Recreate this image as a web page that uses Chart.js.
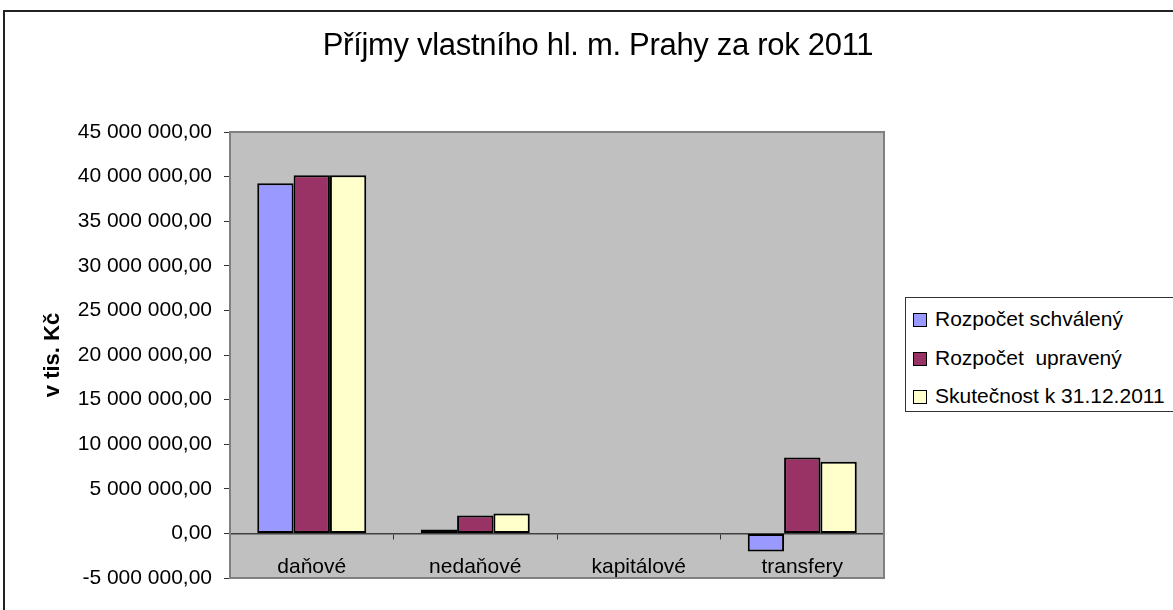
<!DOCTYPE html>
<html>
<head>
<meta charset="utf-8">
<script src="https://cdn.jsdelivr.net/npm/chart.js@4/dist/chart.umd.min.js"></script>
<style>
    body { margin: 0; background: #fff; font-family: "Liberation Sans", Arial, sans-serif; }
    #wrap { position: relative; width: 1173px; height: 610px; overflow: hidden; }
    #frame { position: absolute; left: 3px; top: 10px; width: 1200px; height: 700px; border: 2px solid #222; }
    #chart { position: absolute; left: 0; top: 0; }
    #title { position: absolute; left: 0; width: 1196px; top: 27px; text-align: center; font-size: 31px; color: #000; letter-spacing: -0.3px; }
    #legend { position: absolute; left: 905px; top: 297px; width: 300px; height: 113px; border: 1.5px solid #333; background: #fff; }
    .item { position: absolute; left: 7px; height: 24px; font-size: 21px; line-height: 24px; white-space: pre; color: #000; }
    .box { display: inline-block; width: 12px; height: 12px; border: 1px solid #000; margin-right: 8px; vertical-align: -1px; }
</style>
</head>
<body>
<div id="wrap">
    <div id="frame"></div>
    <canvas id="chart" width="1173" height="610"></canvas>
    <div id="title">Příjmy vlastního hl. m. Prahy za rok 2011</div>
    <div id="legend"></div>
</div>
<script>
// Data (v tis. Kč).
var categories = ["daňové", "nedaňové", "kapitálové", "transfery"];
var seriesNames = ["Rozpočet schválený", "Rozpočet  upravený", "Skutečnost k 31.12.2011"];
var schvaleny = [39250000, 450000, 0, -2020000];
var upraveny = [40150000, 2020000, 0, 8510000];
var skutecnost = [40150000, 2240000, 0, 8030000];
var seriesColors = ["#9999FF", "#993366", "#FFFFCC"];
var yMin = -5000000, yMax = 45000000, yStep = 5000000;

function formatCzk(v) {
    var s = Math.abs(Math.round(v)).toString().replace(/\B(?=(\d{3})+(?!\d))/g, " ");
    return (v < 0 ? "-" : "") + s + ",00";
}

// Gray plot area with its frame.
var plotArea = {
    id: "plotArea",
    beforeDraw: function(chart) {
        var a = chart.chartArea, ctx = chart.ctx;
        ctx.save();
        ctx.fillStyle = "#C0C0C0";
        ctx.fillRect(a.left, a.top, a.right - a.left, a.bottom - a.top);
        ctx.restore();
    },
    beforeDatasetsDraw: function(chart) {
        var a = chart.chartArea, ctx = chart.ctx;
        ctx.save();
        ctx.strokeStyle = "#808080";
        ctx.lineWidth = 2;
        ctx.strokeRect(a.left, a.top, a.right - a.left, a.bottom - a.top);
        ctx.restore();
    }
};

var values = [schvaleny, upraveny, skutecnost];
var datasets = values.map(function(d, i) {
    return {
        label: seriesNames[i],
        data: d,
        backgroundColor: seriesColors[i],
        borderColor: "#000",
        borderWidth: 2,
        borderSkipped: false,
        categoryPercentage: 3 / 4.5,
        barPercentage: 1
    };
});

var font = { family: "'Liberation Sans', Arial, sans-serif", size: 21 };

var chart = new Chart(document.getElementById("chart"), {
    type: "bar",
    data: { labels: categories, datasets: datasets },
    options: {
        responsive: false,
        animation: false,
        devicePixelRatio: 1,
        layout: { padding: { left: 36, right: 289, top: 132, bottom: 32 } },
        plugins: { legend: { display: false }, title: { display: false }, tooltip: { enabled: false } },
        scales: {
            x: {
                position: { y: 0 },
                grid: { offset: true, drawOnChartArea: false, tickLength: 5, color: "#333" },
                border: { color: "#404040", width: 1.5 },
                ticks: { color: "#000", font: font, padding: 16, maxRotation: 0 }
            },
            y: {
                min: yMin,
                max: yMax,
                afterFit: function(scale) { scale.width = 194; },
                grid: { drawOnChartArea: false, tickLength: 6, color: "#333" },
                border: { color: "#808080", width: 2 },
                ticks: {
                    stepSize: yStep,
                    color: "#000",
                    font: font,
                    padding: 12,
                    callback: function(v) { return formatCzk(v); }
                },
                title: {
                    display: true,
                    text: "v tis. Kč",
                    color: "#000",
                    font: { family: "'Liberation Sans', Arial, sans-serif", size: 22, weight: "bold" },
                    padding: { top: 4, bottom: 4 }
                }
            }
        }
    },
    plugins: [plotArea]
});

// Legend built from the same series.
var legend = document.getElementById("legend");
var rowTops = [9, 48, 86];
seriesNames.forEach(function(name, i) {
    var row = document.createElement("div");
    row.className = "item";
    row.style.top = rowTops[i] + "px";
    var box = document.createElement("span");
    box.className = "box";
    box.style.background = seriesColors[i];
    row.appendChild(box);
    row.appendChild(document.createTextNode(name));
    legend.appendChild(row);
});
</script>
</body>
</html>
